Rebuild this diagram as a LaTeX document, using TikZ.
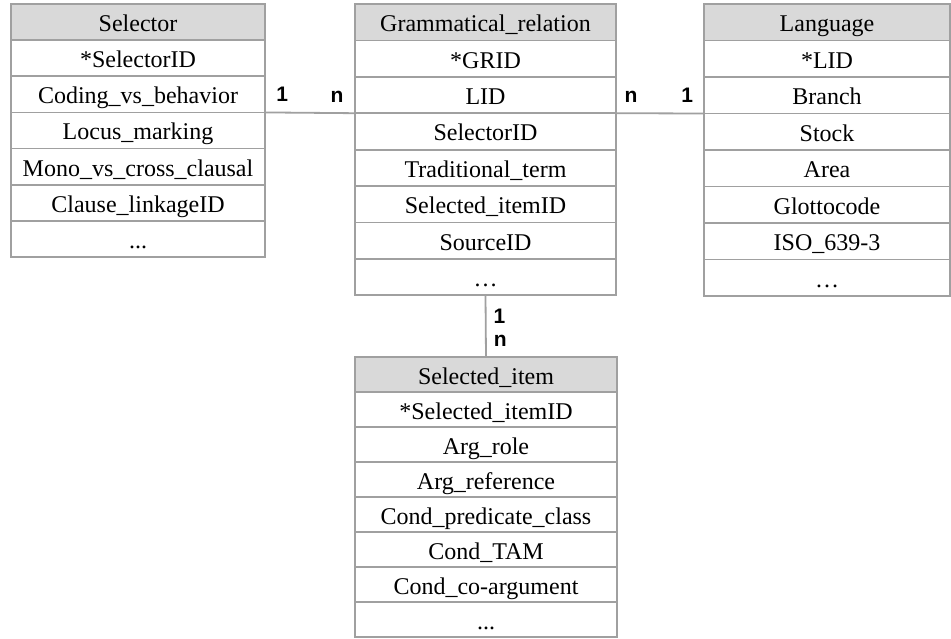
\documentclass[tikz,border=0pt]{standalone}
\usepackage{fontspec}
\setmainfont{Liberation Serif}
\newfontfamily\cardfont{Liberation Sans}
\usetikzlibrary{positioning}

\definecolor{linegray}{RGB}{160,160,160}
\definecolor{headgray}{RGB}{217,217,217}

\begin{document}
\begin{tikzpicture}[x=1pt,y=-1pt,node distance=0pt,
    field/.style={draw=linegray,line width=1.8pt,inner sep=0pt,outer sep=0pt,
      text height=19pt,text depth=0pt,font=\fontsize{24}{28}\selectfont},
    head/.style={field,fill=headgray},
    stab/.style={minimum width=254pt,minimum height=36.14pt},
    gtab/.style={minimum width=261pt,minimum height=36.4pt},
    ltab/.style={minimum width=246pt,minimum height=36.5pt},
    itab/.style={minimum width=262pt,minimum height=35pt},
    card/.style={inner sep=0pt,font=\cardfont\bfseries\fontsize{21}{24}\selectfont},
    link/.style={draw=linegray,line width=1.8pt}]
  \useasboundingbox (0,0) rectangle (951,638);

  % Selector
  \node[head,stab,anchor=north west] (S) at (11,4) {Selector};
  \node[field,stab,below=of S] (S1) {*SelectorID};
  \node[field,stab,below=of S1] (S2) {Coding\_vs\_behavior};
  \node[field,stab,below=of S2] (S3) {Locus\_marking};
  \node[field,stab,below=of S3] (S4) {Mono\_vs\_cross\_clausal};
  \node[field,stab,below=of S4] (S5) {Clause\_linkageID};
  \node[field,stab,below=of S5] (S6) {...};

  % Grammatical_relation
  \node[head,gtab,anchor=north west] (G) at (355,4) {Grammatical\_relation};
  \node[field,gtab,below=of G] (G1) {*GRID};
  \node[field,gtab,below=of G1] (G2) {LID};
  \node[field,gtab,below=of G2] (G3) {SelectorID};
  \node[field,gtab,below=of G3] (G4) {Traditional\_term};
  \node[field,gtab,below=of G4] (G5) {Selected\_itemID};
  \node[field,gtab,below=of G5] (G6) {SourceID};
  \node[field,gtab,below=of G6] (G7) {\dots};

  % Language
  \node[head,ltab,anchor=north west] (L) at (704,4) {Language};
  \node[field,ltab,below=of L] (L1) {*LID};
  \node[field,ltab,below=of L1] (L2) {Branch};
  \node[field,ltab,below=of L2] (L3) {Stock};
  \node[field,ltab,below=of L3] (L4) {Area};
  \node[field,ltab,below=of L4] (L5) {Glottocode};
  \node[field,ltab,below=of L5] (L6) {ISO\_639-3};
  \node[field,ltab,below=of L6] (L7) {\dots};

  % Selected_item
  \node[head,itab,anchor=north west] (I) at (355,357) {Selected\_item};
  \node[field,itab,below=of I] (I1) {*Selected\_itemID};
  \node[field,itab,below=of I1] (I2) {Arg\_role};
  \node[field,itab,below=of I2] (I3) {Arg\_reference};
  \node[field,itab,below=of I3] (I4) {Cond\_predicate\_class};
  \node[field,itab,below=of I4] (I5) {Cond\_TAM};
  \node[field,itab,below=of I5] (I6) {Cond\_co-argument};
  \node[field,itab,below=of I6] (I7) {...};

  \draw[link] (S2.south east) -- node[card,pos=0.19,above=10pt] {1}
              node[card,pos=0.8,above=10pt] {n} (G2.south west);
  \draw[link] (G2.south east) -- node[card,pos=0.17,above=10pt] {n}
              node[card,pos=0.81,above=10pt] {1} (L2.south west);
  \draw[link] (G7.south) -- node[card,pos=0.34,right=7pt] {1}
              node[card,pos=0.74,right=7pt] {n} (I.north);
\end{tikzpicture}
\end{document}
